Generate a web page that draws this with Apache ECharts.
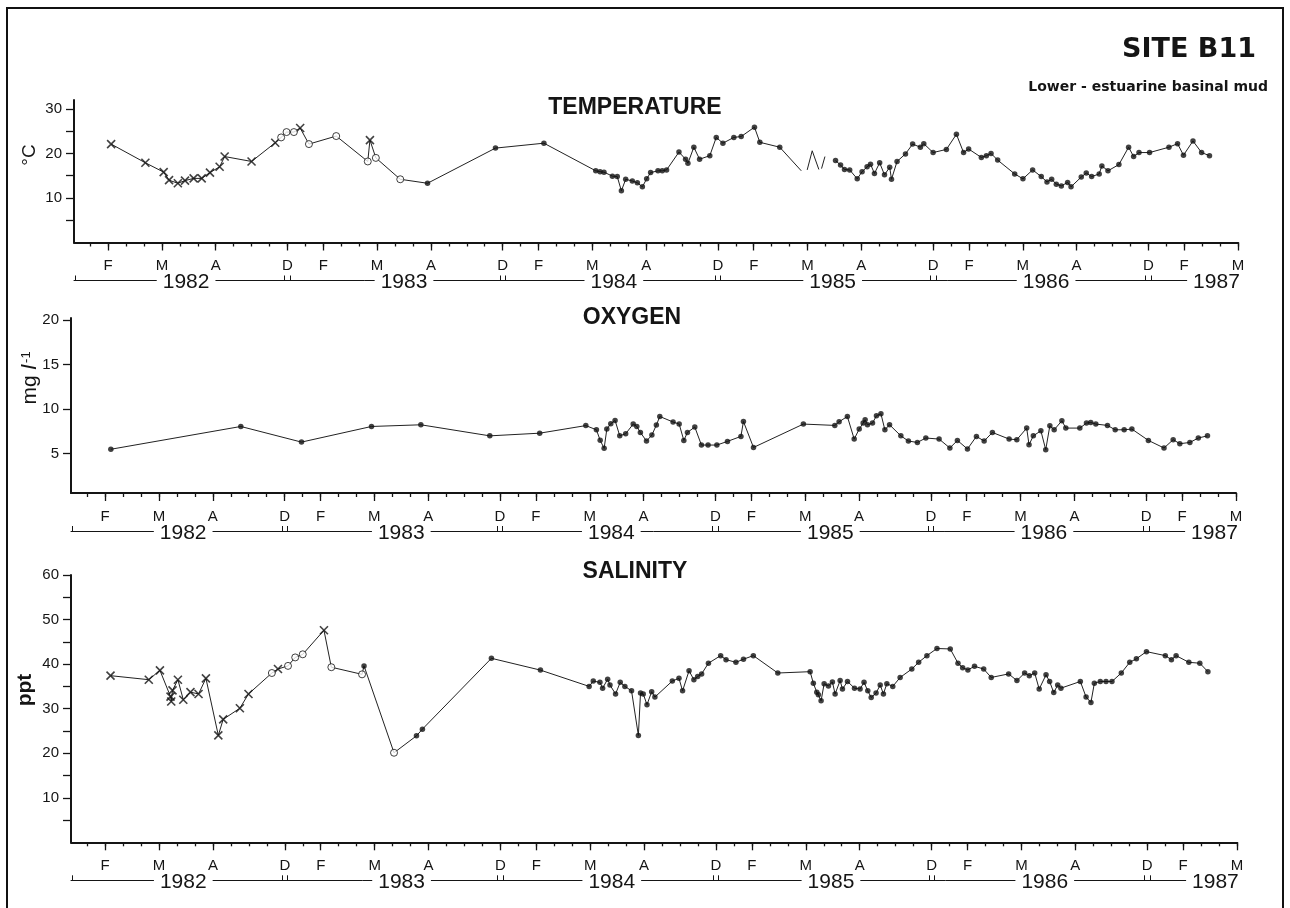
<!DOCTYPE html>
<html>
<head>
<meta charset="utf-8">
<title>Site B11 - temperature, oxygen, salinity</title>
<script src="https://cdn.jsdelivr.net/npm/echarts@6/dist/echarts.min.js"></script>
<style>
  html, body { margin: 0; padding: 0; background: #fff; }
  #chart { width: 1290px; height: 908px; }
</style>
</head>
<body>
<div id="chart"></div>
<script>
// Sampling axis: one unit per tick (a third of a month); the survey seasons
// (F-M-A, then D) are joined end to end, so the axis is not calendar-linear.
const monthLabels = ['F','M','A','D','F','M','A','D','F','M','A','D','F','M','A','D','F','M','A','D','F','M'];
const monthTicks  = [0, 3, 6, 10, 12, 15, 18, 22, 24, 27, 30, 34, 36, 39, 42, 46, 48, 51, 54, 58, 60, 63];
const yearLabels  = ['1982', '1983', '1984', '1985', '1986', '1987'];
const yearLabelAt = [4.35, 16.5, 28.2, 40.4, 52.3, 61.8];
const yearBounds  = [-1.85, 9.85, 10.15, 21.85, 22.15, 33.85, 34.15, 45.85, 46.15, 57.85, 58.15];

// Temperature (deg C)
const tempTicks = [5, 10, 15, 20, 25, 30];
const tempTickLabels = [10, 20, 30];
const tempCross = [[0.17,22.1],[2.08,17.9],[3.1,15.8],[3.4,14.0],[3.89,13.3],[4.29,13.9],[4.77,14.4],[5.22,14.4],[5.68,15.7],[6.22,17.0],[6.5,19.3],[8.0,18.2],[9.32,22.4],[10.71,25.7],[14.6,23.0]];
const tempOpen = [[9.65,23.6],[9.95,24.8],[10.36,24.8],[11.2,22.1],[12.72,23.9],[14.48,18.2],[14.93,19.0],[16.29,14.2]];
const tempDot = [[17.81,13.3],[21.6,21.2],[24.3,22.3],[27.19,16.1],[27.43,15.9],[27.65,15.8],[28.12,14.9],[28.39,14.8],[28.62,11.6],[28.86,14.2],[29.23,13.8],[29.51,13.4],[29.79,12.5],[30.03,14.3],[30.25,15.7],[30.66,16.1],[30.9,16.1],[31.14,16.3],[31.83,20.3],[32.2,18.7],[32.33,17.8],[32.66,21.4],[32.98,18.7],[33.55,19.5],[33.91,23.6],[34.28,22.3],[34.89,23.6],[35.3,23.8],[36.04,25.9],[36.34,22.5],[37.45,21.4],[40.56,18.4],[40.84,17.4],[41.06,16.4],[41.35,16.3],[41.77,14.3],[42.04,15.9],[42.32,17.0],[42.51,17.6],[42.73,15.5],[43.02,17.9],[43.29,15.2],[43.58,16.9],[43.68,14.2],[43.99,18.2],[44.46,19.9],[44.86,22.1],[45.29,21.4],[45.48,22.2],[46.0,20.2],[46.74,20.9],[47.3,24.3],[47.7,20.2],[47.98,21.0],[48.69,19.1],[48.97,19.5],[49.23,20.0],[49.6,18.5],[50.55,15.4],[51.01,14.3],[51.55,16.3],[52.03,14.8],[52.35,13.6],[52.61,14.2],[52.87,13.1],[53.15,12.7],[53.5,13.5],[53.69,12.5],[54.26,14.7],[54.54,15.6],[54.84,14.8],[55.26,15.4],[55.41,17.2],[55.75,16.1],[56.36,17.5],[56.9,21.4],[57.18,19.3],[57.48,20.2],[58.07,20.2],[59.15,21.4],[59.63,22.2],[59.96,19.6],[60.49,22.8],[60.97,20.2],[61.41,19.5]];
const tempLineOnly = [[38.65,16.1],[38.98,16.3],[39.26,20.6],[39.63,16.4],[39.78,16.6],[39.97,19.3]];
const tempGaps = [[38.7,38.9],[39.68,39.74],[40.0,40.5]];

// Dissolved oxygen (mg/l)
const oxyTicks = [5, 10, 15, 20];
const oxyTickLabels = [5, 10, 15, 20];
const oxyDot = [[0.32,5.5],[7.56,8.05],[10.94,6.3],[14.84,8.05],[17.59,8.24],[21.43,7.0],[24.21,7.3],[26.78,8.15],[27.37,7.68],[27.58,6.5],[27.8,5.6],[27.95,7.76],[28.17,8.36],[28.41,8.73],[28.67,7.0],[29.0,7.24],[29.42,8.32],[29.62,8.05],[29.82,7.38],[30.16,6.42],[30.46,7.09],[30.71,8.21],[30.9,9.17],[31.64,8.55],[31.98,8.32],[32.24,6.49],[32.44,7.38],[32.85,7.99],[33.22,5.97],[33.59,5.97],[34.08,5.97],[34.67,6.38],[35.42,6.94],[35.56,8.61],[36.12,5.7],[38.9,8.32],[40.65,8.17],[40.89,8.58],[41.35,9.17],[41.73,6.64],[42.01,7.76],[42.23,8.43],[42.34,8.8],[42.47,8.24],[42.75,8.43],[42.97,9.25],[43.22,9.47],[43.44,7.68],[43.7,8.24],[44.33,7.0],[44.75,6.42],[45.25,6.26],[45.72,6.76],[46.46,6.64],[47.06,5.64],[47.48,6.49],[48.04,5.53],[48.54,6.94],[48.97,6.42],[49.43,7.38],[50.36,6.64],[50.79,6.57],[51.34,7.87],[51.47,6.0],[51.71,7.0],[52.13,7.57],[52.4,5.45],[52.63,8.13],[52.87,7.68],[53.3,8.69],[53.52,7.87],[54.3,7.87],[54.67,8.43],[54.91,8.5],[55.19,8.32],[55.84,8.17],[56.27,7.68],[56.77,7.68],[57.2,7.76],[58.12,6.49],[58.99,5.64],[59.5,6.57],[59.87,6.12],[60.43,6.26],[60.9,6.76],[61.41,7.0]];

// Salinity (ppt)
const salTicks = [5, 10, 15, 20, 25, 30, 35, 40, 45, 50, 55, 60];
const salTickLabels = [10, 20, 30, 40, 50, 60];
const salCross = [[0.3,37.4],[2.43,36.5],[3.05,38.6],[3.64,32.7],[3.68,31.6],[3.75,34.1],[4.05,36.5],[4.35,32.0],[4.75,33.7],[5.2,33.3],[5.61,36.8],[6.3,24.0],[6.57,27.6],[7.5,30.1],[7.98,33.3],[9.62,38.9],[12.18,47.6]];
const salOpen = [[9.28,38.0],[10.18,39.6],[10.58,41.5],[11.0,42.2],[12.59,39.3],[14.3,37.7],[16.08,20.1]];
const salDot = [[14.41,39.6],[17.33,23.9],[17.66,25.4],[21.5,41.3],[24.23,38.65],[26.94,35.0],[27.17,36.2],[27.54,35.9],[27.69,34.6],[27.97,36.6],[28.1,35.3],[28.41,33.3],[28.67,35.9],[28.93,35.0],[29.3,34.0],[29.68,24.0],[29.8,33.5],[29.95,33.3],[30.16,30.9],[30.42,33.8],[30.6,32.6],[31.57,36.2],[31.94,36.8],[32.14,34.0],[32.5,38.5],[32.77,36.5],[32.98,37.2],[33.2,37.8],[33.58,40.2],[34.26,41.9],[34.56,41.0],[35.11,40.4],[35.53,41.1],[36.08,41.9],[37.44,38.0],[39.24,38.3],[39.42,35.7],[39.61,33.7],[39.7,33.1],[39.85,31.75],[40.02,35.6],[40.26,35.1],[40.48,36.0],[40.63,33.3],[40.91,36.3],[41.04,34.4],[41.32,36.1],[41.71,34.6],[42.02,34.4],[42.24,35.9],[42.45,34.0],[42.64,32.5],[42.91,33.5],[43.14,35.3],[43.32,33.3],[43.51,35.6],[43.84,35.0],[44.25,37.0],[44.9,38.9],[45.28,40.4],[45.74,41.9],[46.3,43.5],[47.04,43.4],[47.47,40.2],[47.73,39.2],[48.02,38.7],[48.39,39.5],[48.9,38.9],[49.32,37.0],[50.29,37.8],[50.75,36.3],[51.18,38.0],[51.44,37.4],[51.74,38.0],[51.99,34.4],[52.37,37.6],[52.57,36.1],[52.8,33.6],[53.02,35.3],[53.2,34.6],[54.28,36.1],[54.6,32.6],[54.87,31.4],[55.06,35.7],[55.39,36.1],[55.71,36.1],[56.04,36.1],[56.56,38.0],[57.03,40.4],[57.4,41.2],[57.96,42.8],[59.01,41.9],[59.35,41.0],[59.61,41.9],[60.32,40.4],[60.93,40.2],[61.38,38.3]];

// ---------------------------------------------------------------------------
const FONT = '"Liberation Sans", Arial, Helvetica, sans-serif';
const WIDE = '"DejaVu Sans", "Liberation Sans", sans-serif';
const INK = '#151515';
const CROSS = 'path://M0,0L10,10M10,0L0,10';
const X_MIN = -1.9, X_MAX = 63;
const minorTicks = [];
for (let t = -1; t <= X_MAX; t++) minorTicks.push(t);

const panels = [
  { grid: { left: 74, top: 100, width: 1164, height: 142.5 }, yMin: 0, yMax: 32,
    ticks: tempTicks, labels: tempTickLabels,
    cross: tempCross, open: tempOpen, dot: tempDot, lineOnly: tempLineOnly, gaps: tempGaps },
  { grid: { left: 71, top: 318, width: 1165, height: 175 }, yMin: 0.6, yMax: 20.2,
    ticks: oxyTicks, labels: oxyTickLabels,
    cross: [], open: [], dot: oxyDot, lineOnly: [], gaps: [] },
  { grid: { left: 71, top: 575, width: 1166, height: 267.3 }, yMin: 0, yMax: 60,
    ticks: salTicks, labels: salTickLabels,
    cross: salCross, open: salOpen, dot: salDot, lineOnly: [], gaps: [] }
];

// Join every sample in time order; break the trace across the listed gaps.
function traceSegments(points, gaps) {
  const pts = points.slice().sort((a, b) => a[0] - b[0]);
  const segs = [[]];
  pts.forEach((p, k) => {
    if (k > 0) {
      const a = pts[k - 1][0], b = p[0];
      if (gaps.some(g => a <= g[0] && b >= g[1])) segs.push([]);
    }
    segs[segs.length - 1].push(p);
  });
  return segs;
}

const grids = [], xAxes = [], yAxes = [], series = [];

panels.forEach((p, i) => {
  grids.push(Object.assign({ containLabel: false }, p.grid));
  const base = { type: 'value', gridIndex: i, min: X_MIN, max: X_MAX, position: 'bottom',
                 splitLine: { show: false }, axisPointer: { show: false } };
  // axis line with the small ticks
  xAxes.push(Object.assign({}, base, {
    axisLine: { show: true, onZero: false, lineStyle: { color: INK, width: 2 } },
    axisTick: { show: true, customValues: minorTicks, length: 4, lineStyle: { color: INK, width: 1.3 } },
    axisLabel: { show: false }
  }));
  // month ticks and letters
  xAxes.push(Object.assign({}, base, {
    axisLine: { show: false, onZero: false },
    axisTick: { show: true, customValues: monthTicks, length: 8, lineStyle: { color: INK, width: 1.3 } },
    axisLabel: { show: true, customValues: monthTicks, margin: 16, color: INK,
                 fontFamily: FONT, fontSize: 15,
                 formatter: v => monthLabels[monthTicks.indexOf(v)] }
  }));
  // year brackets
  xAxes.push(Object.assign({}, base, {
    offset: 38,
    axisLine: { show: true, onZero: false, lineStyle: { color: INK, width: 1 } },
    axisTick: { show: true, inside: true, customValues: yearBounds, length: 5, lineStyle: { color: INK, width: 1 } },
    axisLabel: { show: true, customValues: yearLabelAt, margin: 2, verticalAlign: 'middle',
                 color: INK, fontFamily: FONT, fontSize: 21, backgroundColor: '#fff', padding: [0, 6],
                 formatter: v => yearLabels[yearLabelAt.indexOf(v)] }
  }));

  yAxes.push({
    type: 'value', gridIndex: i, min: p.yMin, max: p.yMax, position: 'left',
    splitLine: { show: false },
    axisLine: { show: true, onZero: false, lineStyle: { color: INK, width: 2 } },
    axisTick: { show: true, customValues: p.ticks, length: 8, lineStyle: { color: INK, width: 1.3 } },
    axisLabel: { show: true, customValues: p.labels, margin: 12, color: INK, fontFamily: FONT, fontSize: 15 }
  });

  const xi = i * 3;
  traceSegments(p.cross.concat(p.open, p.dot, p.lineOnly), p.gaps).forEach(seg => {
    series.push({ type: 'line', xAxisIndex: xi, yAxisIndex: i, data: seg, symbol: 'none',
                  lineStyle: { color: '#222', width: 1 }, z: 2, animation: false, silent: true });
  });
  if (p.cross.length) series.push({ type: 'scatter', xAxisIndex: xi, yAxisIndex: i, data: p.cross,
      symbol: CROSS, symbolSize: 8, z: 4, animation: false,
      itemStyle: { color: 'rgba(0,0,0,0)', borderColor: '#111', borderWidth: 1.6 } });
  if (p.open.length) series.push({ type: 'scatter', xAxisIndex: xi, yAxisIndex: i, data: p.open,
      symbol: 'circle', symbolSize: 7, z: 4, animation: false,
      itemStyle: { color: '#fff', borderColor: '#111', borderWidth: 1 } });
  series.push({ type: 'scatter', xAxisIndex: xi, yAxisIndex: i, data: p.dot,
      symbol: 'circle', symbolSize: 5.5, z: 4, animation: false,
      itemStyle: { color: '#111' } });
});

const txt = (text, x, y, size, weight, align, extra, family) => Object.assign({
  type: 'text', x: x, y: y, silent: true,
  style: { text: text, fill: INK, fontFamily: family || FONT, fontSize: size, fontWeight: weight || 'normal',
           align: align || 'center', verticalAlign: 'middle' }
}, extra || {});

const graphic = [
  { type: 'rect', silent: true, shape: { x: 7, y: 8, width: 1276, height: 930 },
    style: { fill: 'none', stroke: '#111', lineWidth: 2 } },
  txt('SITE B11', 1256, 50, 27, 'bold', 'right', null, WIDE),
  txt('Lower - estuarine basinal mud', 1268, 87, 14, 'bold', 'right', null, WIDE),
  txt('TEMPERATURE', 635, 108, 23, 'bold'),
  txt('OXYGEN', 632, 318, 23, 'bold'),
  txt('SALINITY', 635, 572, 23, 'bold'),
  txt('°C', 30, 155, 19, 'normal', 'center', { rotation: Math.PI / 2 }),
  txt('ppt', 25, 690, 21, 'bold', 'center', { rotation: Math.PI / 2 }),
  { type: 'text', x: 30, y: 378, rotation: Math.PI / 2, silent: true,
    style: { text: '{n|mg }{i|l}{s|-1}', align: 'center', verticalAlign: 'middle',
             rich: {
               n: { fontSize: 21, fontFamily: FONT, fill: INK },
               i: { fontSize: 21, fontFamily: FONT, fontStyle: 'italic', fill: INK },
               s: { fontSize: 13, fontFamily: FONT, fill: INK, verticalAlign: 'top', padding: [0, 0, 0, 2] }
             } } }
];

const chart = echarts.init(document.getElementById('chart'), null, { renderer: 'canvas' });
chart.setOption({
  backgroundColor: '#fff',
  animation: false,
  grid: grids,
  xAxis: xAxes,
  yAxis: yAxes,
  series: series,
  graphic: graphic
});
</script>
</body>
</html>
